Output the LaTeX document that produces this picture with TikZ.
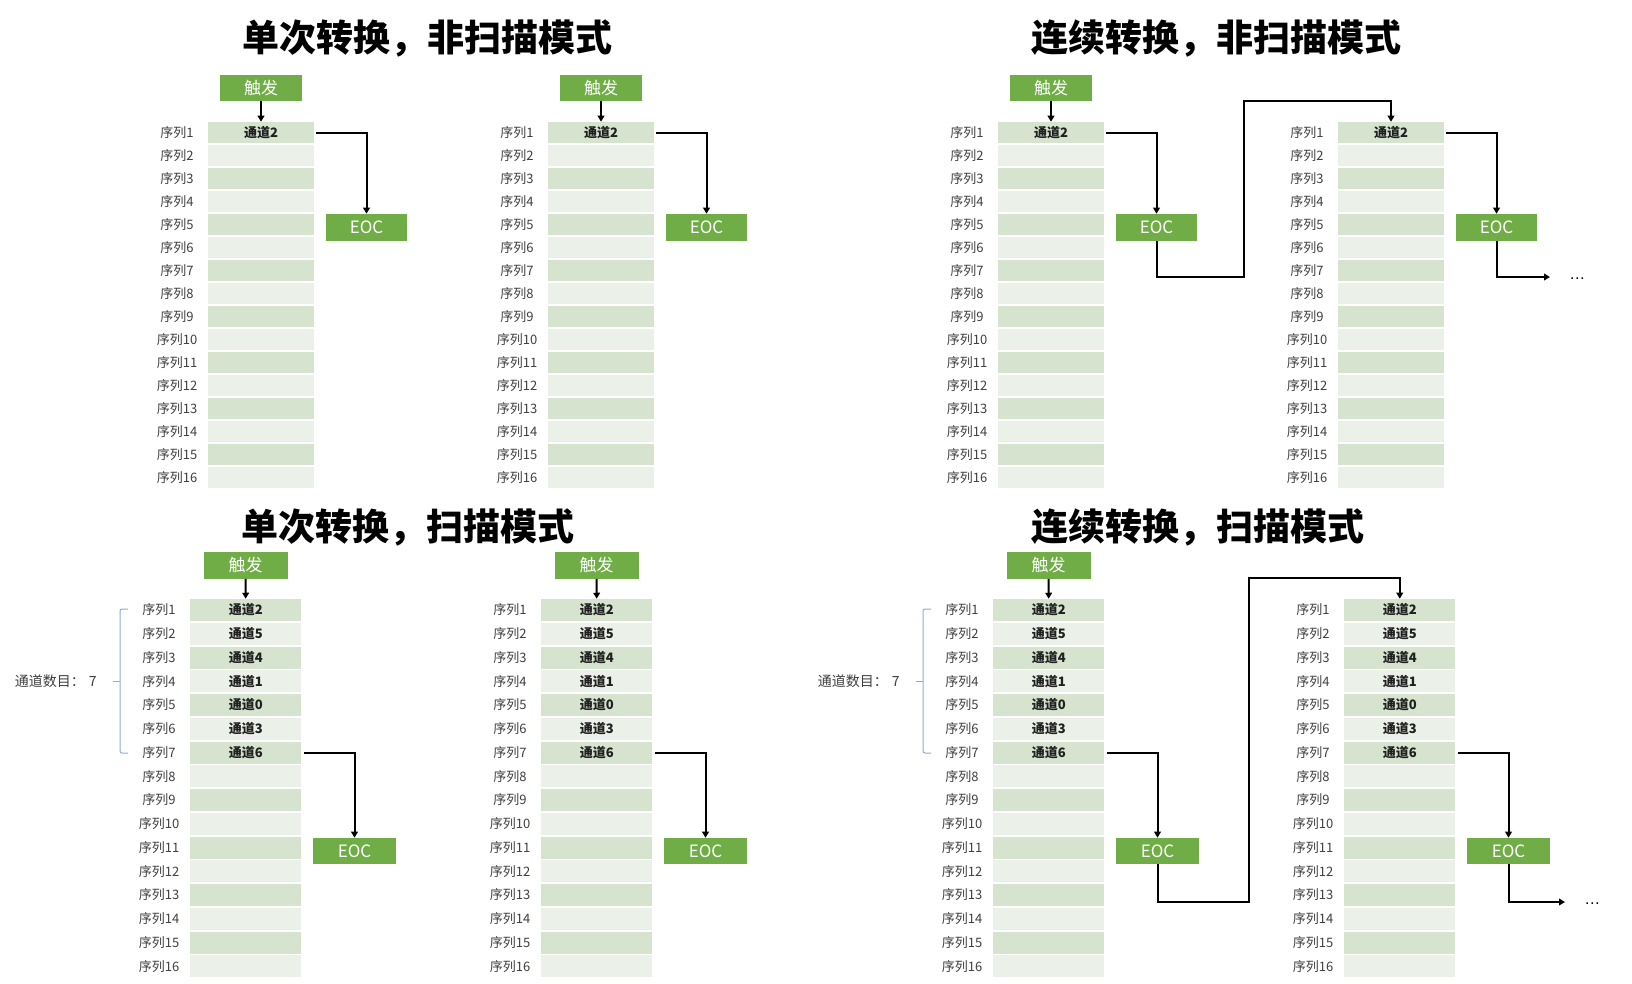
\documentclass[tikz,border=0pt]{standalone}
\usepackage{fontspec}
\setmainfont{Noto Sans CJK SC}
\newfontfamily\latinf{Liberation Sans}
\usetikzlibrary{arrows.meta}
\definecolor{gr}{HTML}{70AD47}
\definecolor{rowA}{HTML}{D5E3CF}
\definecolor{rowB}{HTML}{EBF1E9}
\definecolor{lbl}{HTML}{3F3F3F}
\definecolor{rowtxt}{HTML}{1F1F1F}
\definecolor{brc}{HTML}{8FAADC}
\tikzset{
  rowcell/.style={draw=none, inner sep=0pt, text=rowtxt, font=\bfseries\fontsize{9.75}{10}\selectfont},
  seqlbl/.style={inner sep=0pt, text=lbl, font=\fontsize{9.75}{10}\selectfont},
  greenbox/.style={fill=gr, draw=none, text=white, inner sep=0pt, font=\fontsize{12.75}{13}\selectfont},
  conn/.style={line width=1.5pt, draw=black, -{Triangle[length=4.5pt,width=5pt]}},
  ttl/.style={inner sep=0pt, anchor=west, font=\bfseries\fontsize{27.75}{28}\selectfont},
  bracel/.style={draw=brc, line width=0.75pt, rounded corners=1.5pt},
  dotsnode/.style={inner sep=0pt, anchor=base west, font=\latinf\fontsize{12}{13}\selectfont},
}
% #1 prefix, #2 x0, #3 = 1 if a trigger box is drawn
\newcommand\TopPanel[3]{%
  \foreach \k in {1,...,16}{%
    \ifodd\k \def\fc{rowA}\else\def\fc{rowB}\fi
    \node[rowcell, fill=\fc, minimum width=79.5pt, minimum height=15.75pt] (#1R\k) at (#2+53,{132.5+23*(\k-1)}) {\ifnum\k=1 通道2\fi};
    \node[seqlbl] (#1L\k) at (#2-31,{132.5+23*(\k-1)}) {序列\k};
  }
  \node[greenbox, minimum width=60.75pt, minimum height=20.25pt] (#1E) at (#2+158.5,227.5) {EOC};
  \ifnum#3=1
    \node[greenbox, minimum width=61.5pt, minimum height=19.5pt] (#1T) at (#2+53,88) {触发};
    \draw[conn] (#1T) -- (#1R1);
  \fi
  \draw[conn] ([xshift=1.5pt]#1R1.east) -| (#1E.north);
}
\newcommand\BotPanel[3]{%
  \foreach \k in {1,...,16}{%
    \ifodd\k \def\fc{rowA}\else\def\fc{rowB}\fi
    \node[rowcell, fill=\fc, minimum width=83.6pt, minimum height=16.5pt] (#1R\k) at (#2+55.75,{610+23.75*(\k-1)}) {\ifcase\k\or 通道2\or 通道5\or 通道4\or 通道1\or 通道0\or 通道3\or 通道6\fi};
    \node[seqlbl] (#1L\k) at (#2-31,{610+23.75*(\k-1)}) {序列\k};
  }
  \node[greenbox, minimum width=62.25pt, minimum height=19.5pt] (#1E) at (#2+164.5,851) {EOC};
  \ifnum#3=1
    \node[greenbox, minimum width=63pt, minimum height=20.25pt] (#1T) at (#2+55.5,565) {触发};
    \draw[conn] (#1T) -- (#1R1);
  \fi
  \draw[conn] ([xshift=1.5pt]#1R7.east) -| (#1E.north);
}
\newcommand\CountBrace[2]{%
  \coordinate (#1B1) at (#2-62,609);
  \coordinate (#1B2) at (#2-62,753);
  \coordinate (#1B3) at (#2-77,681);
  \draw[bracel] (#1B1) -- (#2-70,609) -- (#2-70,753) -- (#1B2);
  \draw[bracel] (#2-70,681) -- (#1B3);
  \node[seqlbl, anchor=east, font=\fontsize{10.5}{11}\selectfont] (#1N) at (#2-93,681) {通道数目：\hspace{3pt}7};
}
\begin{document}
\begin{tikzpicture}[x=0.75pt,y=-0.75pt]
\useasboundingbox (0,0) rectangle (1632,983);
\fill[white] (0,0) rectangle (1632,983);
% titles
\node[ttl] (t1) at (242,38) {单次转换，非扫描模式};
\node[ttl] (t2) at (1031,38) {连续转换，非扫描模式};
\node[ttl] (t3) at (241,527) {单次转换，扫描模式};
\node[ttl] (t4) at (1031,527) {连续转换，扫描模式};
% top panels
\TopPanel{A}{208}{1}
\TopPanel{B}{548}{1}
\TopPanel{C}{998}{1}
\TopPanel{D}{1338}{0}
\coordinate (Cb) at (1244,277);
\coordinate (Ct) at (1244,101);
\draw[conn] (CE.south) |- (Cb) -- (Ct) -| (DR1.north);
\coordinate (Dend) at (1550,277);
\draw[conn] (DE.south) |- (Dend);
\node[dotsnode] (Ddots) at (1569,279) {…};
% bottom panels
\BotPanel{E}{190}{1}
\BotPanel{F}{541}{1}
\BotPanel{G}{993}{1}
\BotPanel{H}{1344}{0}
\CountBrace{E}{190}
\CountBrace{G}{993}
\coordinate (Gb) at (1249,902);
\coordinate (Gt) at (1249,578);
\draw[conn] (GE.south) |- (Gb) -- (Gt) -| (HR1.north);
\coordinate (Hend) at (1565,902);
\draw[conn] (HE.south) |- (Hend);
\node[dotsnode] (Hdots) at (1584,904) {…};
\end{tikzpicture}
\end{document}
